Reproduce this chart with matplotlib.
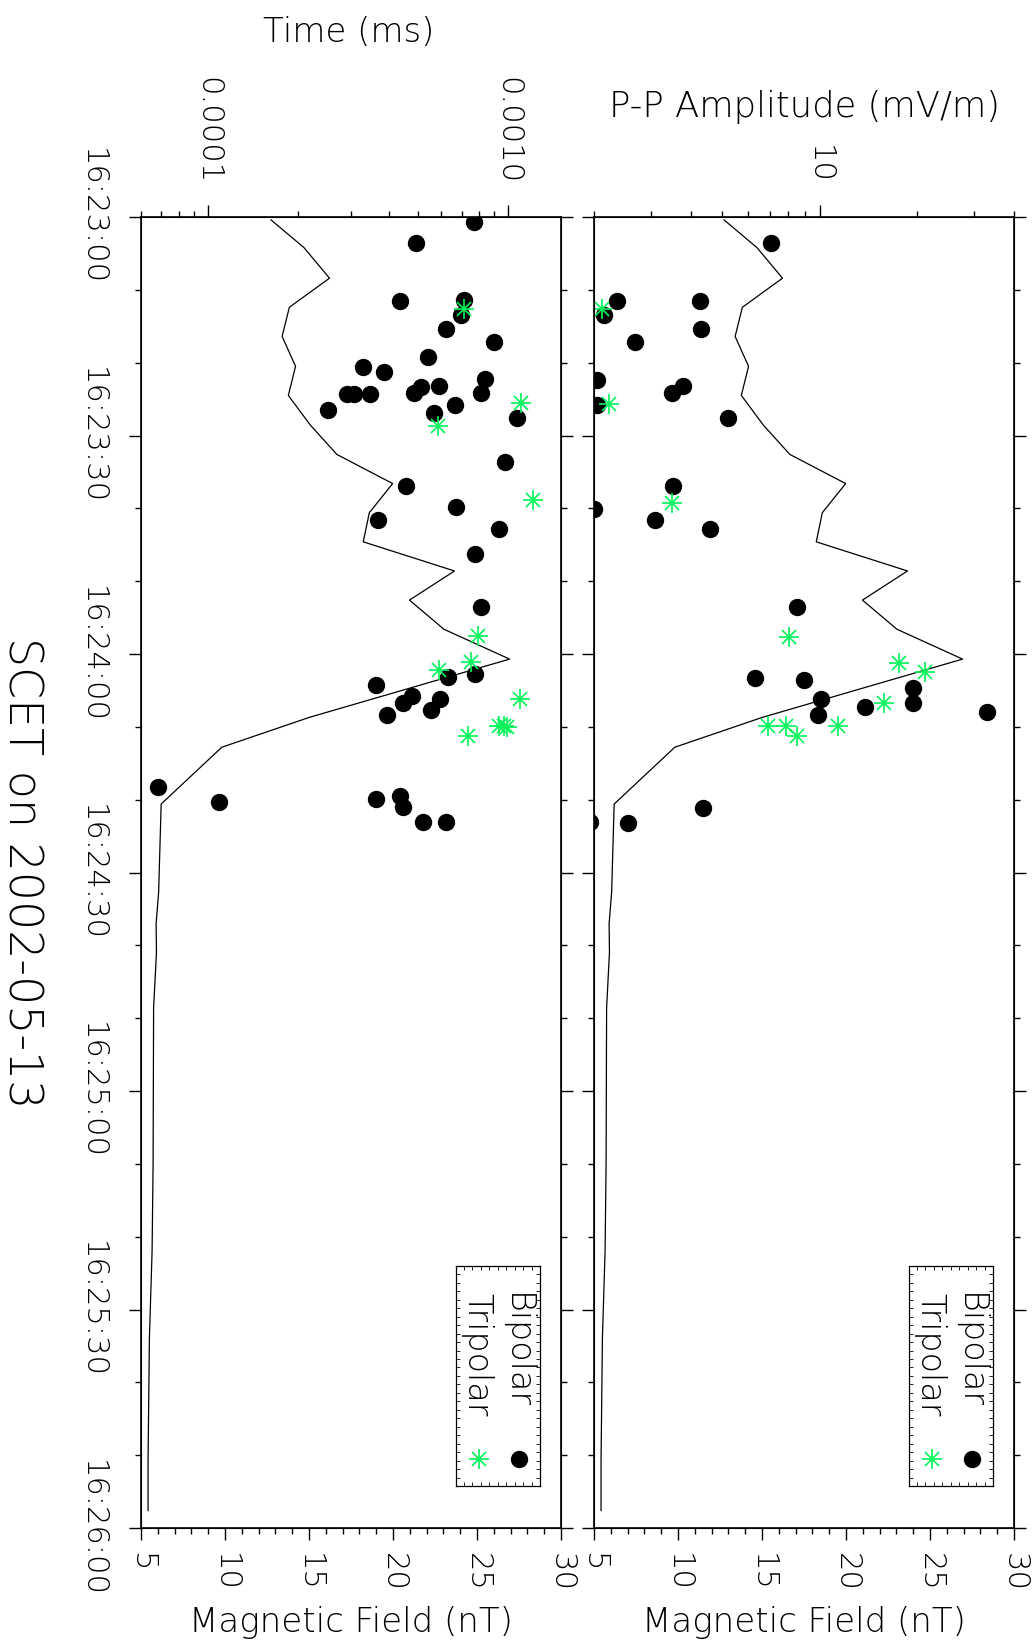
import matplotlib
matplotlib.use("Agg")
import matplotlib.pyplot as plt
from matplotlib.ticker import FixedLocator, MultipleLocator, NullFormatter

plt.rcParams['font.family'] = ['DejaVu Sans']
plt.rcParams['font.weight'] = 200

# --- data ----------------------------------------------------------------
# seconds after 16:23:00
time_ticks = [0, 30, 60, 90, 120, 150, 180]
time_labels = ['16:23:00', '16:23:30', '16:24:00', '16:24:30',
               '16:25:00', '16:25:30', '16:26:00']
field_ticks = [5, 10, 15, 20, 25, 30]

# magnetic field (nT) line, same in both panels
b_time = [0.4, 4.2, 8.4, 12.4, 16.4, 20.5, 24.5, 28.6, 32.6, 36.6, 40.6,
          44.6, 48.6, 52.6, 56.6, 60.7, 68.7, 72.8, 80.6, 92.7, 97.0,
          101.0, 108.6, 130.0, 142.0, 154.0, 170.7, 177.6]
b_field = [12.74, 14.70, 16.22, 13.83, 13.40, 14.20, 13.77, 15.09, 16.66,
           19.98, 18.59, 18.23, 23.66, 20.98, 23.03, 26.94, 15.02, 9.81,
           6.20, 6.05, 5.90, 5.92, 5.75, 5.72, 5.66, 5.50, 5.42, 5.42]

# pulse duration (top axis of the left panel)
bip_dur_t = [0.65, 3.61, 11.50, 11.40, 13.46, 15.43, 17.13, 19.27, 20.56,
             21.29, 22.3, 23.32, 23.22, 24.22, 24.36, 24.36, 24.36, 24.22,
             26.46, 25.78, 26.96, 27.56, 33.7, 36.9, 39.8, 42.9, 41.6,
             46.3, 53.6, 63.2, 62.8, 64.2, 65.7, 66.7, 66.2, 67.7, 68.4,
             78.2, 80.3, 79.9, 79.5, 81.0, 83.0, 83.0]
bip_dur = [7.72e-4, 4.94e-4, 4.36e-4, 7.15e-4, 6.97e-4, 6.23e-4, 8.96e-4,
           5.42e-4, 3.28e-4, 3.87e-4, 8.36e-4, 5.14e-4, 5.90e-4, 4.85e-4,
           2.92e-4, 3.08e-4, 3.46e-4, 8.13e-4, 2.51e-4, 6.64e-4, 5.68e-4,
           1.07e-3, 9.74e-4, 4.59e-4, 6.73e-4, 9.35e-4, 3.68e-4, 7.74e-4,
           8.15e-4, 6.29e-4, 7.78e-4, 3.64e-4, 4.79e-4, 4.46e-4, 5.92e-4,
           5.55e-4, 3.96e-4, 6.83e-5, 1.088e-4, 3.64e-4, 4.36e-4, 4.46e-4,
           5.20e-4, 6.23e-4]
tri_dur_t = [12.64, 25.6, 28.66, 38.9, 57.5, 61.1, 62.2, 66.2, 69.9, 69.9,
             70.0, 71.2]
tri_dur = [7.11e-4, 1.107e-3, 5.83e-4, 1.21e-3, 7.94e-4, 7.53e-4, 5.90e-4,
           1.093e-3, 9.35e-4, 9.66e-4, 9.93e-4, 7.34e-4]

# peak-to-peak amplitude (top axis of the right panel)
bip_amp_t = [3.61, 11.50, 11.54, 13.46, 15.43, 17.13, 22.4, 23.2, 24.2,
             25.8, 27.6, 36.9, 40.1, 41.6, 42.9, 53.6, 63.3, 63.6, 64.6,
             66.2, 67.3, 66.7, 68.4, 67.9, 81.2, 83.2, 83.0]
bip_amp = [7.07, 2.36, 4.26, 2.15, 4.28, 2.68, 2.05, 3.78, 3.50, 2.05, 5.21,
           3.51, 2.00, 3.09, 4.57, 8.51, 6.30, 8.96, 19.4, 10.1, 13.8, 19.5,
           9.86, 33.0, 4.34, 2.55, 1.95]
tri_amp_t = [12.64, 25.7, 39.3, 57.6, 61.3, 62.5, 66.7, 69.9, 69.9, 71.25,
             69.9]
tri_amp = [2.11, 2.23, 3.48, 8.05, 17.6, 21.2, 15.8, 6.93, 7.87, 8.53, 11.37]

GREEN = '#00f558'
W, H = 1034, 1646
PT = 0.72  # points per pixel at dpi 100

fig = plt.figure(figsize=(W / 100, H / 100), dpi=100)


def px_rect(x0, y0, x1, y1):
    return [x0 / W, 1 - y1 / H, (x1 - x0) / W, (y1 - y0) / H]


def asterisk(axis, xs, ys):
    axis.plot(xs, ys, '+', color=GREEN, ms=14, mew=1.2, ls='none')
    axis.plot(xs, ys, 'x', color=GREEN, ms=10, mew=1.2, ls='none')


def make_panel(rect, top_lim, top_major, top_labels, top_minor, show_time):
    ax = fig.add_axes(rect)
    ax.set_xlim(5, 30)
    ax.set_ylim(180, 0)
    ax.set_xticks(field_ticks, [str(v) for v in field_ticks], rotation=-90)
    ax.xaxis.set_minor_locator(MultipleLocator(1))
    if show_time:
        ax.set_yticks(time_ticks, time_labels, rotation=-90, va='center')
    else:
        ax.set_yticks(time_ticks, [''] * len(time_ticks))
    ax.yaxis.set_minor_locator(MultipleLocator(10))
    ax.tick_params(which='both', direction='out', left=True, right=True,
                   width=1.0, labelsize=22, colors='black')
    ax.tick_params(which='major', length=12 * PT)
    ax.tick_params(which='minor', length=6 * PT)
    ax.tick_params(axis='x', pad=13 * PT)
    ax.tick_params(axis='y', pad=22 * PT)
    for s in ax.spines.values():
        s.set_linewidth(1.2)

    top = ax.twiny()
    top.set_xscale('log')
    top.set_xlim(*top_lim)
    top.set_xticks(top_major, top_labels, rotation=-90)
    top.xaxis.set_minor_locator(FixedLocator(top_minor))
    top.xaxis.set_minor_formatter(NullFormatter())
    top.tick_params(which='both', direction='out', width=1.0, labelsize=22,
                    pad=21 * PT)
    top.tick_params(which='major', length=12 * PT)
    top.tick_params(which='minor', length=6 * PT)

    ax.plot(b_field, b_time, color='black', lw=0.9)

    # legend box
    leg = ax.inset_axes([0.749, 0.032, 0.201, 0.168])
    leg.set_xlim(0, 1)
    leg.set_ylim(0, 1)
    leg.patch.set_alpha(0)
    leg.set_xticks([i / 10 for i in range(11)])
    leg.set_yticks([i / 26 for i in range(27)])
    leg.tick_params(which='both', direction='in', length=3, width=0.6,
                    labelbottom=False, labelleft=False,
                    top=True, right=True)
    for s in leg.spines.values():
        s.set_linewidth(0.9)
    leg.text(0.726, 0.875, 'Bipolar', rotation=-90, ha='center', va='top',
             fontsize=24)
    leg.text(0.254, 0.875, 'Tripolar', rotation=-90, ha='center', va='top',
             fontsize=24)
    leg.plot([0.746], [0.125], 'o', color='black', ms=11.5)
    asterisk(leg, [0.274], [0.125])
    return ax, top


def scatter(top, bt, bv, tt, tv):
    top.plot(bv, bt, 'o', color='black', ms=11.5, ls='none')
    asterisk(top, tv, tt)


dur_minor = [k * 1e-5 for k in range(6, 10)] + [k * 1e-4 for k in range(2, 10)]
ax1, top1 = make_panel(px_rect(141, 217, 561, 1528), (6e-5, 1.5e-3),
                       [1e-4, 1e-3], ['0.0001', '0.0010'], dur_minor, True)
scatter(top1, bip_dur_t, bip_dur, tri_dur_t, tri_dur)

amp_minor = list(range(2, 10)) + [20, 30, 40]
ax2, top2 = make_panel(px_rect(594, 217, 1014, 1528), (2, 40),
                       [10], ['10'], amp_minor, False)
scatter(top2, bip_amp_t, bip_amp, tri_amp_t, tri_amp)

fig.text(349 / W, 1 - 41.7 / H, 'Time (ms)', ha='center', va='baseline',
         fontsize=24.5)
fig.text(804.5 / W, 1 - 116.7 / H, 'P-P Amplitude (mV/m)', ha='center',
         va='baseline', fontsize=25.5)
fig.text(351 / W, 1 - 1632 / H, 'Magnetic Field (nT)', ha='center',
         va='baseline', fontsize=24.5)
fig.text(804 / W, 1 - 1632 / H, 'Magnetic Field (nT)', ha='center',
         va='baseline', fontsize=24.5)
fig.text(21 / W, 1 - 872.5 / H, 'SCET on 2002-05-13', rotation=-90,
         ha='center', va='center', fontsize=33)

fig.savefig('out.png', dpi=100)
